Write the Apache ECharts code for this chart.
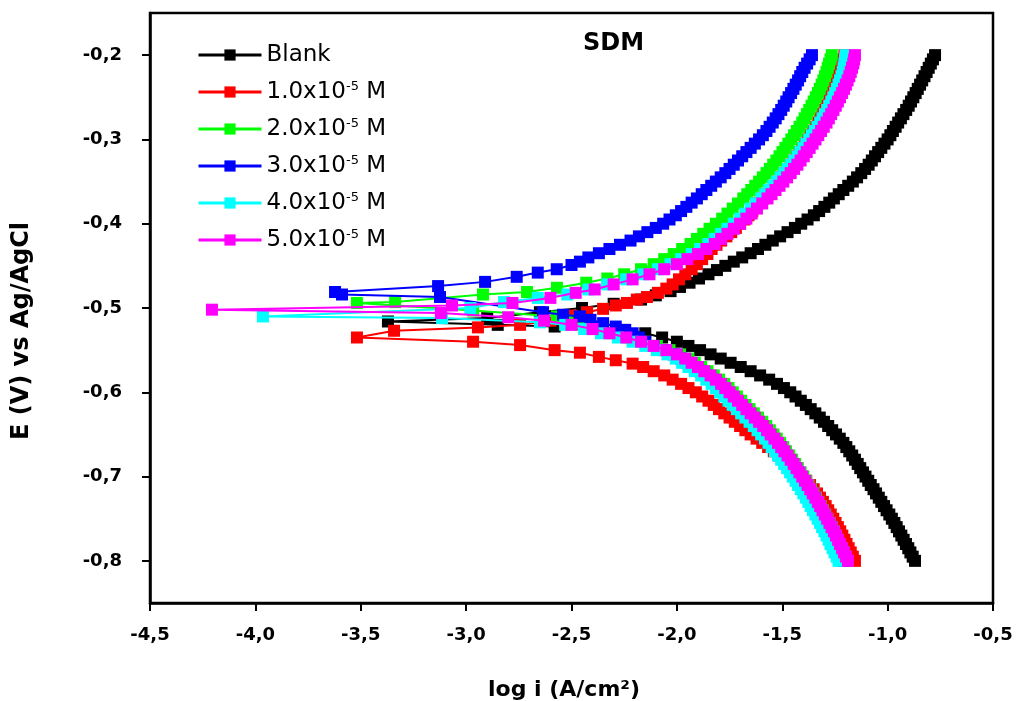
<!DOCTYPE html>
<html>
<head>
<meta charset="utf-8">
<title>SDM – Tafel polarization curves</title>
<script src="https://cdn.jsdelivr.net/npm/echarts@6/dist/echarts.min.js"></script>
<style>
  html, body { margin: 0; padding: 0; background: #fff; }
  #chart { width: 1021px; height: 701px; }
</style>
</head>
<body>
<div id="chart"></div>
<script>
// Potentiodynamic polarization data: [log i (A/cm²), E (V vs Ag/AgCl)],
// swept from the cathodic end (-0.80 V) to the anodic end (-0.20 V).
const seriesNames = ['Blank', '1.0x10-5 M', '2.0x10-5 M', '3.0x10-5 M', '4.0x10-5 M', '5.0x10-5 M'];
const seriesColors = ['#000000', '#ff0000', '#00ff00', '#0000ff', '#00ffff', '#ff00ff'];

const xTicks = [-4.5, -4.0, -3.5, -3.0, -2.5, -2.0, -1.5, -1.0, -0.5];
const yTicks = [-0.8, -0.7, -0.6, -0.5, -0.4, -0.3, -0.2];

const blank = [
  [-0.870,-0.800],[-0.881,-0.795],[-0.892,-0.790],[-0.902,-0.785],[-0.913,-0.780],[-0.924,-0.775],[-0.935,-0.770],
  [-0.946,-0.765],[-0.957,-0.760],[-0.968,-0.755],[-0.980,-0.750],[-0.992,-0.745],[-1.005,-0.740],[-1.017,-0.735],
  [-1.030,-0.730],[-1.042,-0.725],[-1.055,-0.720],[-1.067,-0.715],[-1.080,-0.710],[-1.092,-0.705],[-1.105,-0.700],
  [-1.117,-0.695],[-1.130,-0.690],[-1.142,-0.685],[-1.155,-0.680],[-1.168,-0.675],[-1.182,-0.670],[-1.196,-0.665],
  [-1.210,-0.660],[-1.227,-0.655],[-1.245,-0.650],[-1.263,-0.645],[-1.282,-0.640],[-1.302,-0.635],[-1.322,-0.630],
  [-1.343,-0.625],[-1.365,-0.620],[-1.388,-0.615],[-1.412,-0.610],[-1.437,-0.605],[-1.462,-0.600],[-1.492,-0.595],
  [-1.525,-0.590],[-1.562,-0.585],[-1.605,-0.580],[-1.650,-0.575],[-1.697,-0.570],[-1.745,-0.565],[-1.792,-0.560],
  [-1.840,-0.555],[-1.890,-0.550],[-1.945,-0.545],[-2.000,-0.540],[-2.070,-0.535],[-2.150,-0.530],[-2.250,-0.526],
  [-2.400,-0.524],[-2.580,-0.522],[-2.850,-0.520],[-3.371,-0.516],[-2.900,-0.512],[-2.650,-0.505],[-2.450,-0.500],
  [-2.300,-0.495],[-2.170,-0.490],[-2.100,-0.485],[-2.030,-0.480],[-1.985,-0.475],[-1.940,-0.470],[-1.895,-0.465],
  [-1.850,-0.460],[-1.810,-0.455],[-1.770,-0.450],[-1.730,-0.445],[-1.690,-0.440],[-1.650,-0.435],[-1.615,-0.430],
  [-1.580,-0.425],[-1.545,-0.420],[-1.510,-0.415],[-1.475,-0.410],[-1.440,-0.405],[-1.410,-0.400],[-1.380,-0.395],
  [-1.350,-0.390],[-1.325,-0.385],[-1.300,-0.380],[-1.277,-0.375],[-1.255,-0.370],[-1.232,-0.365],[-1.210,-0.360],
  [-1.187,-0.355],[-1.165,-0.350],[-1.145,-0.345],[-1.125,-0.340],[-1.107,-0.335],[-1.090,-0.330],[-1.075,-0.325],
  [-1.060,-0.320],[-1.045,-0.315],[-1.030,-0.310],[-1.015,-0.305],[-1.000,-0.300],[-0.987,-0.295],[-0.975,-0.290],
  [-0.962,-0.285],[-0.950,-0.280],[-0.937,-0.275],[-0.925,-0.270],[-0.912,-0.265],[-0.900,-0.260],[-0.889,-0.255],
  [-0.878,-0.250],[-0.867,-0.245],[-0.857,-0.240],[-0.846,-0.235],[-0.836,-0.230],[-0.825,-0.225],[-0.815,-0.220],
  [-0.805,-0.215],[-0.795,-0.210],[-0.785,-0.205],[-0.775,-0.200]
];

const conc1 = [
  [-1.155,-0.800],[-1.165,-0.795],[-1.175,-0.790],[-1.185,-0.785],[-1.195,-0.780],[-1.205,-0.775],[-1.215,-0.770],
  [-1.225,-0.765],[-1.236,-0.760],[-1.247,-0.755],[-1.258,-0.750],[-1.270,-0.745],[-1.282,-0.740],[-1.294,-0.735],
  [-1.307,-0.730],[-1.321,-0.725],[-1.335,-0.720],[-1.351,-0.715],[-1.368,-0.710],[-1.386,-0.705],[-1.405,-0.700],
  [-1.425,-0.695],[-1.445,-0.690],[-1.467,-0.685],[-1.490,-0.680],[-1.515,-0.675],[-1.540,-0.670],[-1.567,-0.665],
  [-1.595,-0.660],[-1.622,-0.655],[-1.650,-0.650],[-1.675,-0.645],[-1.700,-0.640],[-1.725,-0.635],[-1.750,-0.630],
  [-1.775,-0.625],[-1.800,-0.620],[-1.825,-0.615],[-1.850,-0.610],[-1.880,-0.605],[-1.910,-0.600],[-1.945,-0.595],
  [-1.980,-0.590],[-2.020,-0.585],[-2.060,-0.580],[-2.110,-0.575],[-2.160,-0.570],[-2.210,-0.566],[-2.290,-0.562],
  [-2.370,-0.558],[-2.460,-0.553],[-2.580,-0.550],[-2.744,-0.544],[-2.967,-0.540],[-3.518,-0.535],[-3.342,-0.527],
  [-2.944,-0.523],[-2.744,-0.520],[-2.600,-0.515],[-2.500,-0.509],[-2.426,-0.505],[-2.350,-0.501],[-2.290,-0.497],
  [-2.237,-0.494],[-2.190,-0.490],[-2.142,-0.487],[-2.090,-0.482],[-2.050,-0.477],[-2.020,-0.472],[-1.990,-0.466],
  [-1.960,-0.460],[-1.930,-0.454],[-1.905,-0.448],[-1.880,-0.442],[-1.855,-0.436],[-1.835,-0.430],[-1.812,-0.425],
  [-1.790,-0.420],[-1.765,-0.415],[-1.742,-0.410],[-1.720,-0.405],[-1.700,-0.400],[-1.680,-0.395],[-1.660,-0.390],
  [-1.642,-0.385],[-1.625,-0.380],[-1.607,-0.375],[-1.590,-0.370],[-1.572,-0.365],[-1.555,-0.360],[-1.537,-0.355],
  [-1.520,-0.350],[-1.505,-0.345],[-1.490,-0.340],[-1.475,-0.335],[-1.460,-0.330],[-1.446,-0.325],[-1.432,-0.320],
  [-1.418,-0.315],[-1.405,-0.310],[-1.392,-0.305],[-1.380,-0.300],[-1.367,-0.295],[-1.355,-0.290],[-1.342,-0.285],
  [-1.330,-0.280],[-1.320,-0.275],[-1.310,-0.270],[-1.300,-0.265],[-1.290,-0.260],[-1.281,-0.255],[-1.273,-0.250],
  [-1.265,-0.245],[-1.257,-0.240],[-1.249,-0.235],[-1.242,-0.230],[-1.235,-0.225],[-1.228,-0.220],[-1.221,-0.215],
  [-1.215,-0.210],[-1.210,-0.205],[-1.205,-0.200]
];

const conc2 = [
  [-1.190,-0.800],[-1.199,-0.795],[-1.208,-0.790],[-1.217,-0.785],[-1.226,-0.780],[-1.235,-0.775],[-1.245,-0.770],
  [-1.255,-0.765],[-1.265,-0.760],[-1.275,-0.755],[-1.286,-0.750],[-1.296,-0.745],[-1.307,-0.740],[-1.318,-0.735],
  [-1.329,-0.730],[-1.340,-0.725],[-1.352,-0.720],[-1.364,-0.715],[-1.376,-0.710],[-1.388,-0.705],[-1.400,-0.700],
  [-1.413,-0.695],[-1.426,-0.690],[-1.439,-0.685],[-1.453,-0.680],[-1.467,-0.675],[-1.482,-0.670],[-1.496,-0.665],
  [-1.510,-0.660],[-1.526,-0.655],[-1.542,-0.650],[-1.559,-0.645],[-1.576,-0.640],[-1.595,-0.635],[-1.615,-0.630],
  [-1.635,-0.625],[-1.655,-0.620],[-1.675,-0.615],[-1.695,-0.610],[-1.715,-0.605],[-1.735,-0.600],[-1.755,-0.595],
  [-1.775,-0.590],[-1.800,-0.585],[-1.825,-0.580],[-1.855,-0.575],[-1.885,-0.570],[-1.915,-0.565],[-1.945,-0.560],
  [-1.985,-0.555],[-2.035,-0.550],[-2.095,-0.545],[-2.155,-0.540],[-2.225,-0.535],[-2.305,-0.530],[-2.385,-0.525],
  [-2.460,-0.520],[-2.520,-0.515],[-2.569,-0.510],[-2.967,-0.503],[-3.518,-0.494],[-3.337,-0.493],[-2.920,-0.484],
  [-2.711,-0.481],[-2.569,-0.476],[-2.430,-0.470],[-2.330,-0.465],[-2.250,-0.460],[-2.170,-0.454],[-2.110,-0.448],
  [-2.060,-0.442],[-2.015,-0.436],[-1.975,-0.430],[-1.935,-0.424],[-1.905,-0.418],[-1.875,-0.412],[-1.845,-0.406],
  [-1.815,-0.400],[-1.785,-0.394],[-1.760,-0.388],[-1.735,-0.382],[-1.710,-0.376],[-1.685,-0.370],[-1.666,-0.365],
  [-1.647,-0.360],[-1.628,-0.355],[-1.610,-0.350],[-1.592,-0.345],[-1.575,-0.340],[-1.559,-0.335],[-1.543,-0.330],
  [-1.528,-0.325],[-1.513,-0.320],[-1.499,-0.315],[-1.485,-0.310],[-1.471,-0.305],[-1.457,-0.300],[-1.444,-0.295],
  [-1.431,-0.290],[-1.418,-0.285],[-1.405,-0.280],[-1.394,-0.275],[-1.383,-0.270],[-1.372,-0.265],[-1.361,-0.260],
  [-1.351,-0.255],[-1.341,-0.250],[-1.331,-0.245],[-1.322,-0.240],[-1.313,-0.235],[-1.305,-0.230],[-1.297,-0.225],
  [-1.290,-0.220],[-1.284,-0.215],[-1.278,-0.210],[-1.271,-0.205],[-1.265,-0.200]
];

const conc3 = [
  [-1.208,-0.800],[-1.217,-0.795],[-1.227,-0.790],[-1.236,-0.785],[-1.246,-0.780],[-1.255,-0.775],[-1.265,-0.770],
  [-1.275,-0.765],[-1.286,-0.760],[-1.296,-0.755],[-1.307,-0.750],[-1.318,-0.745],[-1.329,-0.740],[-1.340,-0.735],
  [-1.351,-0.730],[-1.363,-0.725],[-1.375,-0.720],[-1.387,-0.715],[-1.400,-0.710],[-1.412,-0.705],[-1.425,-0.700],
  [-1.438,-0.695],[-1.452,-0.690],[-1.466,-0.685],[-1.480,-0.680],[-1.495,-0.675],[-1.510,-0.670],[-1.525,-0.665],
  [-1.540,-0.660],[-1.557,-0.655],[-1.575,-0.650],[-1.592,-0.645],[-1.610,-0.640],[-1.630,-0.635],[-1.650,-0.630],
  [-1.670,-0.625],[-1.690,-0.620],[-1.710,-0.615],[-1.730,-0.610],[-1.750,-0.605],[-1.770,-0.600],[-1.790,-0.595],
  [-1.810,-0.590],[-1.835,-0.585],[-1.860,-0.580],[-1.890,-0.575],[-1.920,-0.570],[-1.950,-0.565],[-1.980,-0.560],
  [-2.015,-0.555],[-2.060,-0.550],[-2.110,-0.545],[-2.150,-0.540],[-2.180,-0.535],[-2.210,-0.530],[-2.245,-0.526],
  [-2.290,-0.522],[-2.350,-0.518],[-2.410,-0.514],[-2.460,-0.510],[-2.540,-0.508],[-2.635,-0.505],[-3.124,-0.487],
  [-3.589,-0.484],[-3.622,-0.481],[-3.133,-0.474],[-2.910,-0.469],[-2.760,-0.463],[-2.660,-0.458],[-2.570,-0.454],
  [-2.500,-0.449],[-2.460,-0.445],[-2.420,-0.440],[-2.370,-0.435],[-2.320,-0.430],[-2.270,-0.425],[-2.220,-0.420],
  [-2.180,-0.415],[-2.140,-0.410],[-2.100,-0.405],[-2.065,-0.400],[-2.035,-0.395],[-2.005,-0.390],[-1.980,-0.385],
  [-1.955,-0.380],[-1.930,-0.375],[-1.905,-0.370],[-1.882,-0.365],[-1.860,-0.360],[-1.837,-0.355],[-1.815,-0.350],
  [-1.792,-0.345],[-1.770,-0.340],[-1.750,-0.335],[-1.730,-0.330],[-1.710,-0.325],[-1.690,-0.320],[-1.670,-0.315],
  [-1.650,-0.310],[-1.630,-0.305],[-1.610,-0.300],[-1.592,-0.295],[-1.575,-0.290],[-1.560,-0.285],[-1.545,-0.280],
  [-1.531,-0.275],[-1.518,-0.270],[-1.505,-0.265],[-1.493,-0.260],[-1.481,-0.255],[-1.470,-0.250],[-1.458,-0.245],
  [-1.447,-0.240],[-1.436,-0.235],[-1.425,-0.230],[-1.415,-0.225],[-1.405,-0.220],[-1.394,-0.215],[-1.382,-0.210],
  [-1.370,-0.205],[-1.359,-0.200]
];

const conc4 = [
  [-1.233,-0.800],[-1.242,-0.795],[-1.252,-0.790],[-1.261,-0.785],[-1.271,-0.780],[-1.280,-0.775],[-1.290,-0.770],
  [-1.300,-0.765],[-1.311,-0.760],[-1.321,-0.755],[-1.332,-0.750],[-1.343,-0.745],[-1.354,-0.740],[-1.365,-0.735],
  [-1.376,-0.730],[-1.388,-0.725],[-1.400,-0.720],[-1.412,-0.715],[-1.425,-0.710],[-1.437,-0.705],[-1.450,-0.700],
  [-1.463,-0.695],[-1.477,-0.690],[-1.491,-0.685],[-1.505,-0.680],[-1.520,-0.675],[-1.535,-0.670],[-1.550,-0.665],
  [-1.565,-0.660],[-1.582,-0.655],[-1.600,-0.650],[-1.617,-0.645],[-1.635,-0.640],[-1.655,-0.635],[-1.675,-0.630],
  [-1.695,-0.625],[-1.715,-0.620],[-1.735,-0.615],[-1.755,-0.610],[-1.775,-0.605],[-1.795,-0.600],[-1.815,-0.595],
  [-1.835,-0.590],[-1.860,-0.585],[-1.885,-0.580],[-1.915,-0.575],[-1.945,-0.570],[-1.975,-0.565],[-2.005,-0.560],
  [-2.045,-0.555],[-2.095,-0.550],[-2.150,-0.545],[-2.210,-0.540],[-2.280,-0.535],[-2.360,-0.530],[-2.440,-0.525],
  [-2.530,-0.520],[-2.650,-0.517],[-3.114,-0.512],[-3.964,-0.510],[-2.980,-0.500],[-2.820,-0.493],[-2.660,-0.488],
  [-2.520,-0.484],[-2.420,-0.478],[-2.330,-0.472],[-2.240,-0.466],[-2.160,-0.460],[-2.090,-0.454],[-2.030,-0.448],
  [-1.980,-0.442],[-1.930,-0.436],[-1.890,-0.430],[-1.850,-0.424],[-1.820,-0.418],[-1.790,-0.412],[-1.760,-0.406],
  [-1.730,-0.400],[-1.700,-0.394],[-1.675,-0.388],[-1.650,-0.382],[-1.625,-0.376],[-1.600,-0.370],[-1.581,-0.365],
  [-1.562,-0.360],[-1.543,-0.355],[-1.525,-0.350],[-1.507,-0.345],[-1.490,-0.340],[-1.474,-0.335],[-1.458,-0.330],
  [-1.443,-0.325],[-1.428,-0.320],[-1.414,-0.315],[-1.400,-0.310],[-1.386,-0.305],[-1.372,-0.300],[-1.359,-0.295],
  [-1.346,-0.290],[-1.333,-0.285],[-1.320,-0.280],[-1.309,-0.275],[-1.298,-0.270],[-1.287,-0.265],[-1.277,-0.260],
  [-1.267,-0.255],[-1.258,-0.250],[-1.249,-0.245],[-1.241,-0.240],[-1.233,-0.235],[-1.226,-0.230],[-1.219,-0.225],
  [-1.213,-0.220],[-1.209,-0.215],[-1.205,-0.210],[-1.202,-0.205],[-1.200,-0.200]
];

const conc5 = [
  [-1.188,-0.800],[-1.197,-0.795],[-1.207,-0.790],[-1.216,-0.785],[-1.226,-0.780],[-1.235,-0.775],[-1.245,-0.770],
  [-1.255,-0.765],[-1.266,-0.760],[-1.276,-0.755],[-1.287,-0.750],[-1.298,-0.745],[-1.309,-0.740],[-1.320,-0.735],
  [-1.331,-0.730],[-1.343,-0.725],[-1.355,-0.720],[-1.367,-0.715],[-1.380,-0.710],[-1.392,-0.705],[-1.405,-0.700],
  [-1.418,-0.695],[-1.432,-0.690],[-1.446,-0.685],[-1.460,-0.680],[-1.475,-0.675],[-1.490,-0.670],[-1.505,-0.665],
  [-1.520,-0.660],[-1.537,-0.655],[-1.555,-0.650],[-1.572,-0.645],[-1.590,-0.640],[-1.610,-0.635],[-1.630,-0.630],
  [-1.650,-0.625],[-1.670,-0.620],[-1.690,-0.615],[-1.710,-0.610],[-1.730,-0.605],[-1.750,-0.600],[-1.770,-0.595],
  [-1.790,-0.590],[-1.815,-0.585],[-1.840,-0.580],[-1.870,-0.575],[-1.900,-0.570],[-1.930,-0.565],[-1.960,-0.560],
  [-2.000,-0.555],[-2.050,-0.550],[-2.110,-0.545],[-2.170,-0.540],[-2.240,-0.535],[-2.320,-0.530],[-2.400,-0.525],
  [-2.500,-0.520],[-2.630,-0.515],[-2.800,-0.511],[-3.120,-0.506],[-4.206,-0.502],[-3.067,-0.497],[-2.780,-0.494],
  [-2.600,-0.488],[-2.480,-0.482],[-2.390,-0.478],[-2.300,-0.472],[-2.210,-0.466],[-2.130,-0.460],[-2.060,-0.454],
  [-2.000,-0.448],[-1.950,-0.442],[-1.900,-0.436],[-1.860,-0.430],[-1.820,-0.424],[-1.790,-0.418],[-1.760,-0.412],
  [-1.730,-0.406],[-1.700,-0.400],[-1.670,-0.394],[-1.645,-0.388],[-1.620,-0.382],[-1.595,-0.376],[-1.570,-0.370],
  [-1.551,-0.365],[-1.532,-0.360],[-1.513,-0.355],[-1.495,-0.350],[-1.477,-0.345],[-1.460,-0.340],[-1.444,-0.335],
  [-1.428,-0.330],[-1.413,-0.325],[-1.398,-0.320],[-1.384,-0.315],[-1.370,-0.310],[-1.356,-0.305],[-1.342,-0.300],
  [-1.329,-0.295],[-1.316,-0.290],[-1.303,-0.285],[-1.290,-0.280],[-1.279,-0.275],[-1.268,-0.270],[-1.257,-0.265],
  [-1.246,-0.260],[-1.236,-0.255],[-1.226,-0.250],[-1.216,-0.245],[-1.207,-0.240],[-1.198,-0.235],[-1.190,-0.230],
  [-1.182,-0.225],[-1.175,-0.220],[-1.169,-0.215],[-1.163,-0.210],[-1.159,-0.205],[-1.155,-0.200]
];

const seriesData = [blank, conc1, conc2, conc3, conc4, conc5];

// Decimal comma, one decimal place
const fmt = v => v.toFixed(1).replace('.', ',');

const chart = echarts.init(document.getElementById('chart'), null, { renderer: 'canvas' });

const option = {
  animation: false,
  backgroundColor: '#ffffff',
  title: {
    text: 'SDM',
    left: 583,
    top: 32,
    padding: 0,
    textStyle: { fontFamily: 'DejaVu Sans', fontWeight: 'bold', fontSize: 24, color: '#000' }
  },
  legend: {
    orient: 'vertical',
    left: 197,
    top: 43,
    padding: 0,
    itemWidth: 63,
    itemHeight: 14,
    itemGap: 13,
    selectedMode: false,
    data: seriesNames,
    lineStyle: { width: 3 },
    formatter: name => name.replace('x10-5', 'x10{sup|-5}'),
    textStyle: {
      fontFamily: 'DejaVu Sans',
      fontSize: 23,
      lineHeight: 24,
      color: '#000',
      rich: {
        sup: { fontFamily: 'DejaVu Sans', fontSize: 13, lineHeight: 13, verticalAlign: 'top', color: '#000' }
      }
    }
  },
  graphic: [
    {
      type: 'text',
      x: 22,
      y: 331,
      rotation: Math.PI / 2,
      style: {
        text: 'E (V) vs Ag/AgCl',
        fill: '#000',
        font: 'bold 24px "DejaVu Sans"',
        align: 'center',
        verticalAlign: 'middle'
      }
    },
    {
      type: 'text',
      x: 564,
      y: 690,
      style: {
        text: 'log i (A/cm²)',
        fill: '#000',
        font: 'bold 22px "DejaVu Sans"',
        align: 'center',
        verticalAlign: 'middle'
      }
    }
  ],
  grid: {
    left: 150, right: 28, top: 13, bottom: 98,
    show: true, borderColor: '#000', borderWidth: 2.5, backgroundColor: 'transparent'
  },
  xAxis: {
    type: 'value',
    min: xTicks[0],
    max: xTicks[xTicks.length - 1],
    interval: 0.5,
    axisLine: { lineStyle: { color: '#000', width: 2.5 } },
    axisTick: { length: 8, lineStyle: { color: '#000', width: 2 } },
    axisLabel: { margin: 23, formatter: fmt, fontFamily: 'DejaVu Sans', fontWeight: 'bold', fontSize: 18, color: '#000' },
    splitLine: { show: false }
  },
  yAxis: {
    type: 'value',
    min: -0.85,
    max: -0.15,
    axisLine: { lineStyle: { color: '#000', width: 2.5 } },
    axisTick: { length: 8, customValues: yTicks, lineStyle: { color: '#000', width: 2 } },
    axisLabel: { margin: 28, customValues: yTicks, formatter: fmt, fontFamily: 'DejaVu Sans', fontWeight: 'bold', fontSize: 18, color: '#000' },
    splitLine: { show: false }
  },
  series: seriesNames.map((name, i) => ({
    name,
    type: 'line',
    data: seriesData[i],
    symbol: 'rect',
    symbolSize: 12,
    showSymbol: true,
    clip: true,
    lineStyle: { color: seriesColors[i], width: 2 },
    itemStyle: { color: seriesColors[i], borderWidth: 0 },
    emphasis: { disabled: true },
    z: 2 + i
  }))
};

chart.setOption(option);
</script>
</body>
</html>
